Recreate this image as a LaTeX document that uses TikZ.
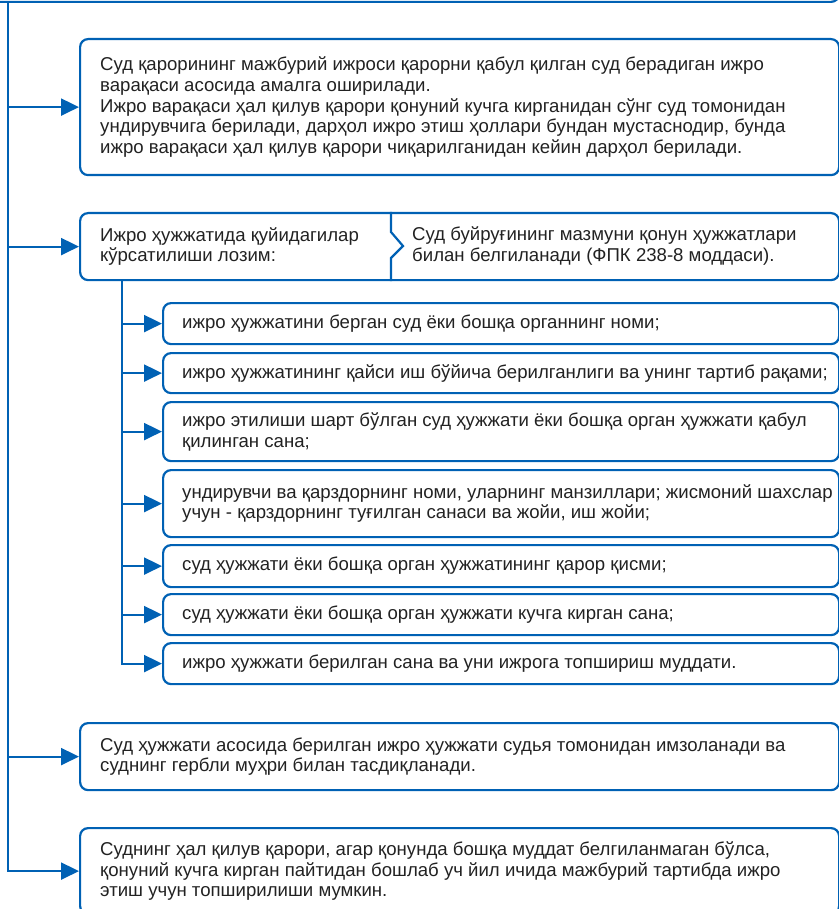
\documentclass[tikz,border=0pt]{standalone}
\usepackage{fontspec}
\setmainfont{Liberation Sans}
\usetikzlibrary{arrows.meta,positioning}
\definecolor{lineblue}{RGB}{0,97,180}
\definecolor{textgray}{RGB}{34,34,34}
\tikzset{
  frame/.style={draw=lineblue, line width=2.2pt, rounded corners=8pt, anchor=north west, inner sep=0pt},
  txt/.style={align=left, text=textgray, font=\fontsize{18.6}{20.7}\selectfont, inner sep=0pt},
  flow/.style={draw=lineblue, line width=2.2pt, -{Triangle[length=18pt,width=17pt]}},
  edge/.style={draw=lineblue, line width=2.2pt}
}
\begin{document}
\begin{tikzpicture}[x=1pt,y=-1pt]
\useasboundingbox (0,0) rectangle (838,909);
\node [frame, anchor=south west, minimum width=868pt, minimum height=40pt] (head) at (-30,3) {};
\node [frame, minimum width=759pt, minimum height=136pt] (b1) at (79,38) {};
\node [frame, minimum width=759pt, minimum height=67pt] (req) at (79,212) {};
\node [frame, minimum width=676pt, minimum height=41pt] (s1) at (162,302) {};
\node [frame, minimum width=676pt, minimum height=40pt] (s2) at (162,352) {};
\node [frame, minimum width=676pt, minimum height=59pt] (s3) at (162,401) {};
\node [frame, minimum width=676pt, minimum height=67pt] (s4) at (162,469) {};
\node [frame, minimum width=676pt, minimum height=42pt] (s5) at (162,544) {};
\node [frame, minimum width=676pt, minimum height=41pt] (s6) at (162,593) {};
\node [frame, minimum width=676pt, minimum height=41pt] (s7) at (162,642) {};
\node [frame, minimum width=759pt, minimum height=67pt] (b8) at (79,722) {};
\node [frame, minimum width=759pt, minimum height=86pt] (b9) at (79,827) {};
%
\node [txt, right=21pt of b1.west] (t1) {Суд қарорининг мажбурий ижроси қарорни қабул қилган суд берадиган ижро\\варақаси асосида амалга оширилади.\\Ижро варақаси ҳал қилув қарори қонуний кучга кирганидан сўнг суд томонидан\\ундирувчига берилади, дарҳол ижро этиш ҳоллари бундан мустаснодир, бунда\\ижро варақаси ҳал қилув қарори чиқарилганидан кейин дарҳол берилади.};
\node [txt, right=21pt of req.west] (treq) {Ижро ҳужжатида қуйидагилар\\кўрсатилиши лозим:};
\coordinate (cut) at (391,246);
\draw [edge] (cut |- req.north) -- ++(0,20) -- ++(12,14) -- ++(-12,12) -- (cut |- req.south);
\node [txt, right=21pt of cut] (tlaw) {Суд буйруғининг мазмуни қонун ҳужжатлари\\билан белгиланади (ФПК 238-8 моддаси).};
\node [txt, right=20pt of s1.west] (ts1) {ижро ҳужжатини берган суд ёки бошқа органнинг номи;};
\node [txt, right=20pt of s2.west] (ts2) {ижро ҳужжатининг қайси иш бўйича берилганлиги ва унинг тартиб рақами;};
\node [txt, right=20pt of s3.west] (ts3) {ижро этилиши шарт бўлган суд ҳужжати ёки бошқа орган ҳужжати қабул\\қилинган сана;};
\node [txt, right=20pt of s4.west] (ts4) {ундирувчи ва қарздорнинг номи, уларнинг манзиллари; жисмоний шахслар\\учун - қарздорнинг туғилган санаси ва жойи, иш жойи;};
\node [txt, right=20pt of s5.west] (ts5) {суд ҳужжати ёки бошқа орган ҳужжатининг қарор қисми;};
\node [txt, right=20pt of s6.west] (ts6) {суд ҳужжати ёки бошқа орган ҳужжати кучга кирган сана;};
\node [txt, right=20pt of s7.west] (ts7) {ижро ҳужжати берилган сана ва уни ижрога топшириш муддати.};
\node [txt, right=21pt of b8.west] (t8) {Суд ҳужжати асосида берилган ижро ҳужжати судья томонидан имзоланади ва\\суднинг гербли муҳри билан тасдиқланади.};
\node [txt, right=21pt of b9.west] (t9) {Суднинг ҳал қилув қарори, агар қонунда бошқа муддат белгиланмаган бўлса,\\қонуний кучга кирган пайтидан бошлаб уч йил ичида мажбурий тартибда ижро\\этиш учун топширилиши мумкин.};
%
\coordinate (trunk) at (8,3);
\draw [flow] (trunk |- b1.west) -- (b1.west);
\draw [flow] (trunk |- req.west) -- (req.west);
\draw [flow] (trunk |- b8.west) -- (b8.west);
\draw [flow] (trunk) |- (b9.west);
\coordinate (sub) at (122,279);
\draw [flow] (sub |- s1.west) -- (s1.west);
\draw [flow] (sub |- s2.west) -- (s2.west);
\draw [flow] (sub |- s3.west) -- (s3.west);
\draw [flow] (sub |- s4.west) -- (s4.west);
\draw [flow] (sub |- s5.west) -- (s5.west);
\draw [flow] (sub |- s6.west) -- (s6.west);
\draw [flow] (sub) |- (s7.west);
\end{tikzpicture}
\end{document}
